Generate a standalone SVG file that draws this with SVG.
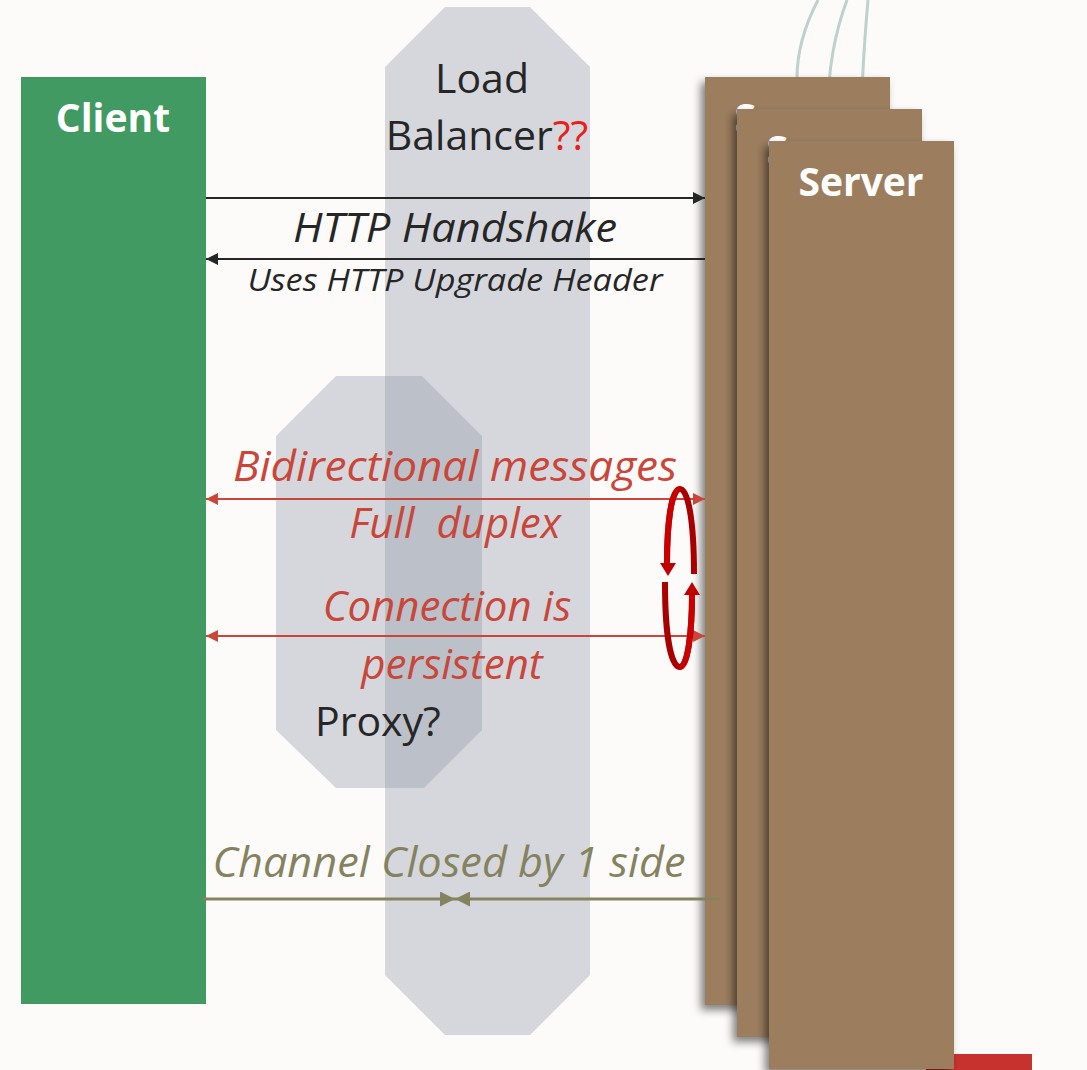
<svg xmlns="http://www.w3.org/2000/svg" width="1087" height="1070" viewBox="0 0 1087 1070">
  <style>
    text { font-family: "Open Sans", "Noto Sans", sans-serif; }
    .title { font-size: 39px; font-weight: bold; fill: #ffffff; }
    .lbl { font-size: 41px; fill: #262626; }
    .it { font-style: italic; font-size: 42px; }
    .it.small { font-size: 31px; }
    .it.mid { font-size: 40px; }
    .blk { stroke: #262626; stroke-width: 2; fill: none; }
    .red { stroke: #c8473a; stroke-width: 2; fill: none; }
    .olive { stroke: #85835f; stroke-width: 3; fill: none; }
    .srv { fill: #9c7e5f; filter: url(#shadow); }
    .wire { stroke: #bcd2cb; stroke-width: 3; fill: none; }
    .band { fill: #8f98a6; fill-opacity: 0.36; }
  </style>
  <defs>
    <filter id="shadow" x="-20%" y="-5%" width="140%" height="110%">
      <feDropShadow dx="-4" dy="5" stdDeviation="4" flood-color="#000" flood-opacity="0.5"/>
    </filter>
    <marker id="ahBlack" viewBox="0 0 10 10" refX="10" refY="5" markerWidth="14" markerHeight="12" orient="auto-start-reverse" markerUnits="userSpaceOnUse">
      <path d="M0,0 L10,5 L0,10 z" fill="#262626"/>
    </marker>
    <marker id="ahRed" viewBox="0 0 10 10" refX="10" refY="5" markerWidth="16" markerHeight="12" orient="auto-start-reverse" markerUnits="userSpaceOnUse">
      <path d="M0,0 L10,5 L0,10 z" fill="#c8473a"/>
    </marker>
    <marker id="ahOlive" viewBox="0 0 10 10" refX="10" refY="5" markerWidth="15" markerHeight="15" orient="auto-start-reverse" markerUnits="userSpaceOnUse">
      <path d="M0,0 L10,5 L0,10 z" fill="#85835f"/>
    </marker>
  </defs>

  <rect width="1087" height="1070" fill="#fcfbfa"/>

  <!-- cables into the server stack -->
  <g id="cables">
    <path class="wire" d="M818,0 C805,25 797,50 797,78"/>
    <path class="wire" d="M847,0 C834,35 828,70 828,110"/>
    <path class="wire" d="M868,0 C864,45 861,90 861,142"/>
  </g>

  <!-- accent bar -->
  <rect x="926" y="1054" width="106" height="16" fill="#c8322e"/>

  <!-- Client -->
  <g id="client">
    <rect x="21" y="77" width="185" height="927" fill="#419a61"/>
    <text class="title" x="113" y="132" text-anchor="middle">Client</text>
  </g>

  <!-- Server stack -->
  <g id="server1">
    <rect class="srv" x="705" y="77" width="185" height="928"/>
    <text class="title" x="797" y="132" text-anchor="middle">Server</text>
  </g>
  <g id="server2">
    <rect class="srv" x="737" y="109" width="185" height="928"/>
    <text class="title" x="829" y="164" text-anchor="middle">Server</text>
  </g>
  <g id="server3">
    <rect class="srv" x="769" y="141" width="185" height="928"/>
    <text class="title" x="861" y="196" text-anchor="middle">Server</text>
  </g>

  <!-- Load balancer -->
  <g id="loadbalancer">
    <polygon class="band" points="445,7 530,7 590,67 590,975 530,1035 445,1035 385,975 385,67"/>
    <text class="lbl" x="482" y="93" text-anchor="middle">Load</text>
    <text class="lbl" x="487" y="150" text-anchor="middle">Balancer<tspan fill="#e8201c">??</tspan></text>
  </g>

  <!-- Proxy -->
  <g id="proxy">
    <polygon class="band" points="336,376 422,376 482,436 482,730 424,788 336,788 276,730 276,436"/>
    <text class="lbl" x="315" y="736">Proxy?</text>
  </g>

  <!-- connectors -->
  <g id="connectors">
    <line class="blk" x1="206" y1="198" x2="705" y2="198" marker-end="url(#ahBlack)"/>
    <line class="blk" x1="705" y1="259" x2="206" y2="259" marker-end="url(#ahBlack)"/>
    <line class="red" x1="206" y1="499" x2="705" y2="499" marker-start="url(#ahRed)" marker-end="url(#ahRed)"/>
    <line class="red" x1="206" y1="636" x2="705" y2="636" marker-start="url(#ahRed)" marker-end="url(#ahRed)"/>
    <line class="olive" x1="203" y1="899" x2="455" y2="899" marker-end="url(#ahOlive)"/>
    <line class="olive" x1="720" y1="899" x2="455" y2="899" marker-end="url(#ahOlive)"/>

    <!-- circular "persistent" loop -->
    <path d="M694,574 C694,520 688,489 680,489 C671,489 667,525 667,563" fill="none" stroke="#a80000" stroke-width="6"/>
    <path d="M680,489 C671,489 667,525 667,563" fill="none" stroke="#c80000" stroke-width="6"/>
    <polygon points="660,563 676,563 668,576" fill="#c00000"/>
    <path d="M665,582 C665,636 671,667 680,667 C688,667 692,630 692,595" fill="none" stroke="#a80000" stroke-width="6"/>
    <path d="M680,667 C688,667 692,630 692,595" fill="none" stroke="#c80000" stroke-width="6"/>
    <polygon points="684,595 700,595 692,582" fill="#c00000"/>
  </g>

  <!-- labels -->
  <g id="labels">
    <text class="it mid" x="455" y="242" text-anchor="middle" fill="#262626" textLength="324" lengthAdjust="spacingAndGlyphs">HTTP Handshake</text>
    <text class="it small" x="455" y="291" text-anchor="middle" fill="#262626" textLength="415" lengthAdjust="spacingAndGlyphs">Uses HTTP Upgrade Header</text>
    <text class="it" x="455" y="481" text-anchor="middle" fill="#c8473a" textLength="444" lengthAdjust="spacingAndGlyphs">Bidirectional messages</text>
    <text class="it" x="455" y="538" text-anchor="middle" fill="#c8473a" xml:space="preserve">Full  duplex</text>
    <text class="it" x="447" y="621" text-anchor="middle" fill="#c8473a">Connection is</text>
    <text class="it" x="452" y="679" text-anchor="middle" fill="#c8473a">persistent</text>
    <text class="it" x="449" y="877" text-anchor="middle" fill="#85835f" textLength="473" lengthAdjust="spacingAndGlyphs">Channel Closed by 1 side</text>
  </g>
</svg>
